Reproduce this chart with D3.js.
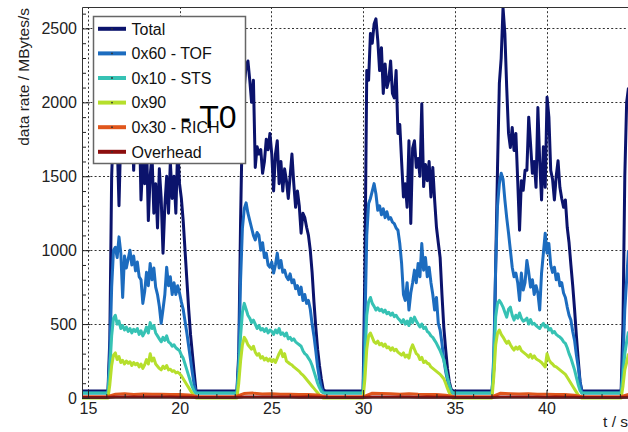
<!DOCTYPE html>
<html><head><meta charset="utf-8">
<script src="https://cdn.jsdelivr.net/npm/d3@7"></script>
<style>
body{margin:0;background:#fff}
svg{display:block}
text{font-family:"Liberation Sans",Arial,Helvetica,sans-serif}
</style>
</head><body>
<svg id="c" width="628" height="432"></svg>
<script>
// ---------------- data ----------------
const seriesNames = ["Total", "0x60 - TOF", "0x10 - STS", "0x90", "0x30 - RICH", "Overhead"];
const seriesColors = ["#0b136c", "#1c6cbf", "#36c2b4", "#b6df2c", "#e0561c", "#8c0e0e"];
// start time (s) of each beam spill, values sampled every 0.1 s inside a spill
const spillStart = [16.09, 23.12, 30.0, 37.03, 44.07];
const fineStep = 0.1;
// level of each fine series between spills (MByte/s)
const gapLevel = [48, 33, 33, 0];

const totalSpills = [
  [48,400,1500,1850,1900,1750,1300,1800,1950,1700,2050,1800,1650,1900,1540,1850,1700,1950,1340,1600,1450,1750,1200,1500,1650,1250,1450,1150,1550,1350,980,1300,1500,1250,1600,1350,1500,1250,1700,1450,1350,1200,1000,800,600,430,300,170,48],
  [48,300,1200,1900,2100,2250,2280,2150,2000,2150,1560,1700,1650,1680,1520,1600,1750,1680,1790,1650,1400,1650,1740,1450,1600,1400,1550,1470,1350,1500,1650,1450,1290,1400,1300,1115,1250,1220,1155,1100,1000,850,650,480,330,220,130,60,48],
  [48,900,2215,2150,2465,2400,2530,2565,2420,2215,2370,2060,2260,2100,2150,2280,2060,2030,2215,1790,1850,1600,1360,1450,1290,1740,1180,1690,1740,1560,1620,1500,1990,1430,1580,1470,1600,1360,1560,1340,1155,1050,950,700,480,330,200,110,60,48],
  [48,200,900,1560,2130,2300,2640,2465,2100,1790,1695,1830,1675,1790,1470,1135,1470,1405,1540,1540,1900,1720,1520,1600,1425,1965,1600,1340,1700,1425,2035,1900,1540,1480,1340,1500,1605,1425,1350,1290,1340,1155,1050,900,760,600,420,260,110,48],
  [48,500,1500,2000,2100]
];
const tofSpills = [
  [33,300,750,1000,1020,950,1090,980,680,960,880,940,1000,900,960,860,920,820,800,640,720,850,760,910,800,880,750,700,620,505,600,700,885,760,820,700,780,700,760,710,650,600,520,440,350,260,170,90,33],
  [33,250,800,1150,1280,1320,1250,1200,1150,1100,1070,1120,1100,1000,1050,950,980,900,885,920,845,900,980,880,930,850,865,820,800,840,780,800,740,760,700,750,660,700,640,660,600,500,420,320,210,130,70,40,33],
  [33,500,1100,1315,1350,1400,1450,1380,1270,1300,1240,1280,1220,1260,1210,1220,1190,1180,1150,1135,1045,910,700,660,780,595,710,780,865,780,910,820,1045,865,950,820,885,780,700,595,680,505,460,370,260,180,120,70,40,33],
  [33,300,900,1300,1450,1520,1480,1340,1220,1115,1000,885,820,845,780,660,845,730,780,930,850,750,800,700,760,710,595,845,980,1115,980,1045,900,850,885,800,840,760,780,710,680,615,560,527,450,390,290,210,110,33],
  [33,250,600,800,1000]
];
const stsSpills = [
  [33,200,420,540,560,500,520,470,490,460,480,450,470,440,465,450,470,430,455,420,445,480,440,510,470,490,440,420,400,380,410,390,420,380,370,350,360,340,330,320,290,270,230,190,150,110,75,45,33],
  [33,180,420,580,640,600,560,540,510,527,500,470,490,460,470,450,470,440,460,450,430,460,440,470,430,440,420,440,400,410,390,400,380,370,360,350,320,300,290,270,250,220,180,140,100,70,45,35,33],
  [33,250,560,650,680,640,620,595,610,590,600,580,595,570,580,560,575,550,560,540,527,510,530,500,520,490,540,510,547,520,500,480,500,470,480,450,440,420,410,390,370,345,320,290,257,200,140,90,50,33],
  [33,250,550,640,660,640,615,580,547,600,615,560,527,560,540,575,540,520,527,540,500,530,500,505,490,480,470,490,505,480,490,460,470,440,450,430,420,412,400,380,370,340,300,270,230,190,140,90,50,33],
  [33,150,300,380,450]
];
const x90Spills = [
  [0,90,220,290,305,260,280,240,255,230,250,235,245,220,240,225,235,210,230,200,225,260,230,300,250,270,230,215,200,190,215,200,220,190,195,180,185,170,175,165,150,130,110,90,70,50,30,12,0],
  [0,100,250,360,410,390,360,345,330,350,310,290,300,270,280,257,270,250,265,245,260,240,270,300,324,280,300,250,240,230,223,210,200,190,180,165,155,140,125,110,95,80,65,50,35,20,8,0,0],
  [0,130,330,420,440,410,380,370,385,360,370,350,365,340,345,324,340,320,330,310,300,290,305,277,290,270,330,360,330,300,290,260,275,240,250,235,230,210,200,190,180,170,160,145,130,100,65,35,10,0],
  [0,150,360,440,460,430,412,390,370,385,360,340,324,345,330,347,320,310,300,290,277,295,270,285,265,257,250,240,225,210,300,260,240,230,215,210,200,190,180,170,160,140,120,100,80,60,40,20,5,0],
  [0,80,190,240,300]
];
// slow series, sampled every 0.5 s from t = 15 s
const coarseStart = 15.0;
const coarseStep = 0.5;
const richCoarse = [8,8,8,26,28,24,27,25,26,23,24,20,8,8,8,8,8,30,33,27,28,25,26,23,24,20,8,8,8,8,8,32,30,28,26,29,25,24,23,19,8,8,8,8,8,32,29,27,28,25,26,24,23,19,8,8,8,8,8,26];
const overheadCoarse = [3,3,3,6,7,6,6,7,6,6,5,5,3,3,3,3,3,6,7,6,7,6,6,5,6,5,3,3,3,3,3,7,6,7,6,6,5,6,5,5,3,3,3,3,3,7,6,7,6,6,5,6,5,5,3,3,3,3,3,6];

const xMajor = [15, 20, 25, 30, 35, 40];
const yMajor = [0, 500, 1000, 1500, 2000, 2500];

// ---------------- layout ----------------
const svg = d3.select("#c");
const frameL = 82, frameT = 7, frameR = 640;
const x = d3.scaleLinear().domain([15, 45]).range([88, 88 + 30 * 18.34]);
const y = d3.scaleLinear().domain([0, 2645]).range([398, 7]);
const frameB = y(0);

svg.append("defs").append("clipPath").attr("id", "clip")
  .append("rect").attr("x", frameL).attr("y", frameT).attr("width", frameR - frameL).attr("height", frameB - frameT + 2);

// grid
const grid = svg.append("g").attr("stroke", "#333").attr("stroke-width", 1).attr("stroke-dasharray", "2,2.2");
grid.selectAll("line.v").data(xMajor).join("line")
  .attr("x1", d => Math.round(x(d)) + 0.5).attr("x2", d => Math.round(x(d)) + 0.5)
  .attr("y1", frameT).attr("y2", frameB);
grid.selectAll("line.h").data(yMajor.filter(d => d > 0)).join("line")
  .attr("y1", d => Math.round(y(d)) + 0.5).attr("y2", d => Math.round(y(d)) + 0.5)
  .attr("x1", frameL).attr("x2", frameR);

// build point lists
function finePoints(spills, gap) {
  const pts = [[14.6, gap]];
  spills.forEach((vals, k) => vals.forEach((v, i) => pts.push([spillStart[k] + i * fineStep, v])));
  return pts;
}
function coarsePoints(vals) {
  return vals.map((v, i) => [coarseStart + i * coarseStep, v]).concat([]);
}
const allSeries = [
  finePoints(totalSpills, gapLevel[0]),
  finePoints(tofSpills, gapLevel[1]),
  finePoints(stsSpills, gapLevel[2]),
  finePoints(x90Spills, gapLevel[3]),
  [[14.6, richCoarse[0]]].concat(coarsePoints(richCoarse)),
  [[14.6, overheadCoarse[0]]].concat(coarsePoints(overheadCoarse))
];
const line = d3.line().x(d => x(d[0])).y(d => y(d[1]));
const plot = svg.append("g").attr("clip-path", "url(#clip)");
plot.selectAll("path").data(allSeries).join("path")
  .attr("d", line)
  .attr("fill", "none")
  .attr("stroke", (d, i) => seriesColors[i])
  .attr("stroke-width", 3)
  .attr("stroke-linejoin", "round");

// axes
const axisColor = "#222";
const yAx = svg.append("g").attr("transform", `translate(${frameL},0)`)
  .call(d3.axisLeft(y).tickValues(yMajor).tickSize(-8).tickPadding(5).tickFormat(d3.format("d")));
const yMin = svg.append("g").attr("transform", `translate(${frameL},0)`)
  .call(d3.axisLeft(y).tickValues(d3.range(0, 2601, 100).filter(v => v % 500)).tickSize(-4).tickFormat(""));
const xAx = svg.append("g").attr("transform", `translate(0,${frameB})`)
  .call(d3.axisBottom(x).tickValues(xMajor).tickSize(-8).tickPadding(5).tickFormat(d3.format("d")));
const xMin = svg.append("g").attr("transform", `translate(0,${frameB})`)
  .call(d3.axisBottom(x).tickValues(d3.range(15, 45, 1).filter(v => v % 5)).tickSize(-4).tickFormat(""));
[yAx, yMin, xAx, xMin].forEach(g => {
  g.select(".domain").remove();
  g.selectAll("line").attr("stroke", axisColor);
  g.selectAll("text").attr("font-size", 16).attr("fill", axisColor)
    .attr("font-family", '"Liberation Sans", Arial, sans-serif');
});

// frame
svg.append("path")
  .attr("d", `M${frameR},${frameT + 0.5}H${frameL + 0.5}V${frameB}H${frameR}`)
  .attr("fill", "none").attr("stroke", "#333").attr("stroke-width", 1);

// axis titles
svg.append("text").attr("transform", "translate(29,8) rotate(-90)")
  .attr("text-anchor", "end").attr("font-size", 15.5).attr("fill", "#222")
  .text("data rate / MBytes/s");
svg.append("text").attr("x", 628).attr("y", 427).attr("text-anchor", "end")
  .attr("font-size", 15.5).attr("fill", "#222").text("t / s");

// legend
const lg = svg.append("g");
lg.append("rect").attr("x", 93.5).attr("y", 16.5).attr("width", 152).attr("height", 147)
  .attr("fill", "#fff").attr("stroke", "#666").attr("stroke-width", 1.5);
const rows = lg.selectAll("g.row").data(seriesNames).join("g")
  .attr("transform", (d, i) => `translate(0,${28.8 + i * 24.6})`);
rows.append("line").attr("x1", 98).attr("x2", 126).attr("y1", 0).attr("y2", 0)
  .attr("stroke", (d, i) => seriesColors[i]).attr("stroke-width", 4);
rows.append("circle").attr("cx", 112).attr("cy", 0).attr("r", 0.9).attr("fill", "#333");
rows.append("text").attr("x", 131.5).attr("y", 5.8).attr("font-size", 16).attr("fill", "#111").text(d => d);

// stray label
svg.append("text").attr("x", 180.3).attr("y", 128.3).attr("font-size", 32).attr("fill", "#000").text("- T0");
</script>
</body></html>
